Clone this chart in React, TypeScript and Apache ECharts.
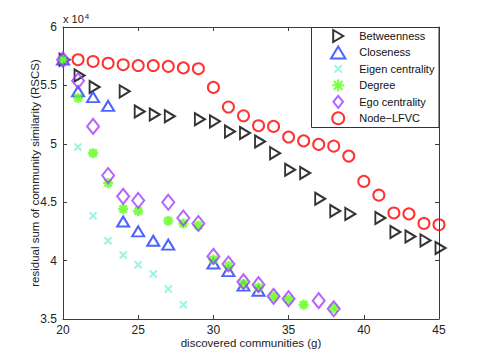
import React, { useEffect, useRef } from "react";
import * as echarts from "echarts";

const FONT = '"Liberation Sans", Arial, Helvetica, sans-serif';

const seriesNames = ["Betweenness", "Closeness", "Eigen centrality", "Degree", "Ego centrality", "Node\u2212LFVC"];

const xBetweenness = [20, 21, 22, 24, 25, 26, 27, 29, 30, 31, 32, 33, 34, 35, 36, 37, 38, 39, 41, 42, 43, 44, 45];
const yBetweenness = [57200, 55850, 54870, 54490, 52770, 52500, 52350, 52100, 51920, 51060, 50920, 50200, 49200, 47780, 47500, 45300, 44250, 44000, 43650, 42450, 42070, 41730, 41080];

const xCloseness = [20, 21, 22, 23, 24, 25, 26, 27, 30, 31, 32, 33];
const yCloseness = [57200, 54500, 54000, 53250, 43350, 42500, 41700, 41370, 39750, 39100, 37850, 37420];

const xEigen = [20, 21, 22, 23, 24, 25, 26, 27, 28];
const yEigen = [57200, 49730, 43840, 41700, 40480, 39650, 38850, 37570, 36220];

const xDegree = [20, 21, 22, 23, 24, 25, 27, 28, 29, 30, 31, 32, 33, 34, 35, 36, 38];
const yDegree = [57200, 53920, 49200, 46640, 44420, 44240, 43400, 43180, 43000, 40100, 39560, 38000, 37700, 36900, 36680, 36220, 35940];

const xEgo = [20, 21, 22, 23, 24, 25, 27, 28, 29, 30, 31, 32, 33, 34, 35, 37, 38];
const yEgo = [57200, 55400, 51490, 47280, 45500, 45150, 45000, 43650, 43180, 40360, 39710, 38180, 37940, 36940, 36740, 36570, 35880];

const xNodeLFVC = [21, 22, 23, 24, 25, 26, 27, 28, 29, 30, 31, 32, 33, 34, 35, 36, 37, 38, 39, 40, 41, 42, 43, 44, 45];
const yNodeLFVC = [57200, 57050, 56900, 56770, 56700, 56700, 56630, 56500, 56430, 54830, 53150, 52400, 51550, 51490, 50580, 50250, 49950, 49800, 48950, 46780, 45600, 44080, 44000, 43180, 43070];

const xMin = 20, xMax = 45, xStep = 5;
const yMin = 35000, yMax = 60000, yStep = 5000;

const pairs = (xs: number[], ys: number[]) => xs.map((x, i) => [x, ys[i]]);

const RIGHT_TRI = "path://M0,0L10,6L0,12Z";
const UP_TRI = "path://M6,0L12,10L0,10Z";
const DIAMOND = "path://M6,0L12,7.5L6,15L0,7.5Z";
const ASTERISK = "path://M0,-5L0,5M-5,0L5,0M-3.6,-3.6L3.6,3.6M-3.6,3.6L3.6,-3.6";
const CROSS = "path://M-1,-1L1,1M-1,1L1,-1";
const CROSS_LEGEND = "path://M-1.6,-1.6M1.6,1.6M-1,-1L1,1M-1,1L1,-1";

export default function App() {
  const ref = useRef<HTMLDivElement>(null);
  useEffect(() => {
    const chart = echarts.init(ref.current!, null, { renderer: "svg" });
    const axisColor = "#3c3c3c";
    const hollow = (c: string, w = 2) => ({ color: "rgba(0,0,0,0)", borderColor: c, borderWidth: w });
    const axisBase = (pos: string) => ({
      type: "value",
      position: pos,
      axisLine: { show: true, onZero: false, lineStyle: { color: axisColor, width: 1 } },
      axisTick: { show: true, inside: true, length: 4, lineStyle: { color: axisColor } },
      splitLine: { show: false },
      axisLabel: { show: false },
    });
    chart.setOption({
      animation: false,
      backgroundColor: "#ffffff",
      textStyle: { fontFamily: FONT },
      grid: { left: 63, right: 46, top: 27, bottom: 41, containLabel: false, outerBoundsMode: "none" },
      xAxis: [
        { ...axisBase("bottom"), min: xMin, max: xMax, interval: xStep,
          axisLabel: { show: true, color: "#222", fontSize: 12, fontFamily: FONT, margin: 5 } },
        { ...axisBase("top"), min: xMin, max: xMax, interval: xStep },
      ],
      yAxis: [
        { ...axisBase("left"), min: yMin, max: yMax, interval: yStep,
          axisLabel: { show: true, color: "#222", fontSize: 12, fontFamily: FONT, margin: 6, formatter: (v: number) => String(v / 10000) } },
        { ...axisBase("right"), min: yMin, max: yMax, interval: yStep },
      ],
      legend: {
        show: true,
        orient: "vertical",
        left: 330,
        top: 29,
        padding: 0,
        itemWidth: 32,
        itemHeight: 12,
        itemGap: 2.45,
        borderWidth: 0,
        backgroundColor: "rgba(0,0,0,0)",
        textStyle: { fontSize: 11, color: "#111", fontFamily: FONT },
        selectedMode: false,
        z: 5,
        data: seriesNames.map((n, i) => (i === 2 ? { name: n, icon: CROSS_LEGEND } : { name: n })),
      },
      graphic: [
        {
          type: "rect",
          shape: { x: 311.5, y: 27.5, width: 127.5, height: 100 },
          style: { fill: "#ffffff", stroke: "#333", lineWidth: 1 },
          z: 4,
          zlevel: 0,
        },
        {
          type: "text",
          left: 63,
          top: 12,
          style: {
            text: "x 10{sup|4}",
            font: `11px ${FONT}`,
            fill: "#222",
            rich: { sup: { fontSize: 8, verticalAlign: "top", padding: [0, 0, 6, 1], fontFamily: FONT } },
          },
        },
        {
          type: "text",
          x: 35,
          y: 173,
          rotation: Math.PI / 2,
          style: {
            text: "residual sum of community similarity (RSCS)",
            font: `11.5px ${FONT}`,
            fill: "#222",
            align: "center",
            verticalAlign: "middle",
          },
        },
        {
          type: "text",
          x: 251,
          y: 343,
          style: {
            text: "discovered communities (g)",
            font: `11.5px ${FONT}`,
            fill: "#222",
            align: "center",
            verticalAlign: "middle",
          },
        },
      ],
      series: [
        {
          name: seriesNames[0], type: "scatter", data: pairs(xBetweenness, yBetweenness),
          symbol: RIGHT_TRI, symbolSize: [10, 12], symbolOffset: [1.5, 0],
          itemStyle: hollow("#000000"), emphasis: { disabled: true }, z: 2,
        },
        {
          name: seriesNames[1], type: "scatter", data: pairs(xCloseness, yCloseness),
          symbol: UP_TRI, symbolSize: [12, 10],
          itemStyle: hollow("#1f3cff"), emphasis: { disabled: true }, z: 2,
        },
        {
          name: seriesNames[2], type: "scatter", data: pairs(xEigen, yEigen),
          symbol: CROSS, symbolSize: 7,
          itemStyle: hollow("#7ff3de"), emphasis: { disabled: true }, z: 2,
        },
        {
          name: seriesNames[3], type: "scatter", data: pairs(xDegree, yDegree),
          symbol: ASTERISK, symbolSize: 10,
          itemStyle: hollow("#5cff14", 2.6), emphasis: { disabled: true }, z: 2,
        },
        {
          name: seriesNames[4], type: "scatter", data: pairs(xEgo, yEgo),
          symbol: DIAMOND, symbolSize: [12, 15],
          itemStyle: hollow("#a43cff"), emphasis: { disabled: true }, z: 2,
        },
        {
          name: seriesNames[5], type: "scatter", data: pairs(xNodeLFVC, yNodeLFVC),
          symbol: "circle", symbolSize: 11,
          itemStyle: hollow("#ff0000"), emphasis: { disabled: true }, z: 2,
        },
      ],
    });
    return () => chart.dispose();
  }, []);
  return <div ref={ref} style={{ position: "absolute", left: 0, top: 0, width: 485, height: 360 }} />;
}
